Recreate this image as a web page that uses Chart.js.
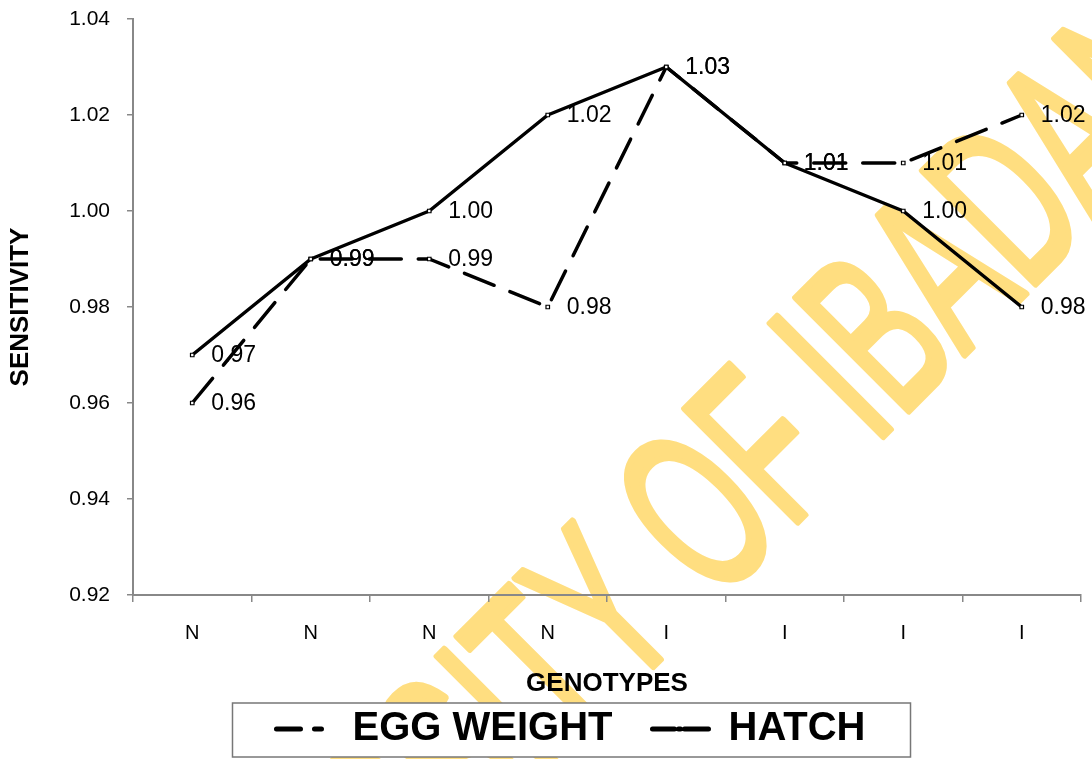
<!DOCTYPE html>
<html>
<head>
<meta charset="utf-8">
<script src="https://cdn.jsdelivr.net/npm/chart.js@4.4.1/dist/chart.umd.min.js"></script>
<style>
  html, body { margin: 0; padding: 0; background: #fff; overflow: hidden; }
  #wrap { width: 1142px; height: 759px; }
</style>
</head>
<body>
<div id="wrap"><canvas id="chart" width="1142" height="759"></canvas></div>
<script>
// data
const genotypes = ['N', 'N', 'N', 'N', 'I', 'I', 'I', 'I'];
const eggWeight = [0.96, 0.99, 0.99, 0.98, 1.03, 1.01, 1.01, 1.02];
const hatch = [0.97, 0.99, 1.00, 1.02, 1.03, 1.01, 1.00, 0.98];
const yMin = 0.92;
const yMax = 1.04;
const yStep = 0.02;

const FONT = "'Liberation Sans', Arial, sans-serif";
Chart.defaults.font.family = FONT;
Chart.defaults.color = '#000';

// yellow repository watermark behind everything
const watermark = {
  id: 'watermark',
  beforeDraw(chart){
    const ctx = chart.ctx;
    const size = 232;
    ctx.save();
    ctx.translate(828, 374);
    ctx.rotate(-45 * Math.PI / 180);
    ctx.scale(0.58, 1);
    ctx.font = size + 'px ' + FONT;
    ctx.textAlign = 'left';
    ctx.textBaseline = 'alphabetic';
    ctx.fillStyle = '#FFDE80';
    ctx.strokeStyle = '#FFDE80';
    ctx.lineWidth = 7;
    ctx.lineJoin = 'round';
    const txt = 'UNIVERSITY OF IBADAN';
    const pre = ctx.measureText('UNIVERSITY OF ').width + ctx.measureText('I').width / 2;
    ctx.fillText(txt, -pre, size * 0.716 / 2);
    ctx.strokeText(txt, -pre, size * 0.716 / 2);
    ctx.restore();

    // white legend box
    const lg = chart.legend;
    if (lg && lg.legendHitBoxes.length){
      const hb = lg.legendHitBoxes;
      const last = hb[hb.length - 1];
      ctx.save();
      ctx.fillStyle = '#fff';
      ctx.fillRect(hb[0].left - 44, hb[0].top - 6, last.left + last.width - hb[0].left + 89, 54);
      ctx.restore();
    }
  },
  afterDraw(chart){
    const lg = chart.legend;
    if (!lg || !lg.legendHitBoxes.length) return;
    const ctx = chart.ctx;
    const hb = lg.legendHitBoxes;
    const last = hb[hb.length - 1];
    ctx.save();
    ctx.strokeStyle = '#777';
    ctx.lineWidth = 1.5;
    ctx.strokeRect(hb[0].left - 44, hb[0].top - 6, last.left + last.width - hb[0].left + 89, 54);
    ctx.restore();
  }
};

// value labels right of each point
const valueLabels = {
  id: 'valueLabels',
  afterDatasetsDraw(chart){
    const ctx = chart.ctx;
    ctx.save();
    ctx.font = '23px ' + FONT;
    ctx.fillStyle = '#000';
    ctx.textAlign = 'left';
    ctx.textBaseline = 'middle';
    chart.data.datasets.forEach((ds, i) => {
      chart.getDatasetMeta(i).data.forEach((pt, j) => {
        ctx.fillText(ds.data[j].toFixed(2), pt.x + 19, pt.y + 1);
      });
    });
    ctx.restore();
  }
};

const legendDash = {
  'EGG WEIGHT': [24, 14, 7, 60],
  'HATCH': [22, 4, 2, 4, 40]
};

new Chart(document.getElementById('chart'), {
  type: 'line',
  data: {
    labels: genotypes,
    datasets: [
      {
        label: 'EGG WEIGHT',
        data: eggWeight,
        borderColor: '#000',
        borderWidth: 3.5,
        borderDash: [32, 17],
        borderCapStyle: 'round',
        borderJoinStyle: 'round',
        pointStyle: 'rect',
        pointRadius: 2.5,
        pointBackgroundColor: '#fff',
        pointBorderColor: '#000',
        pointBorderWidth: 1.2,
        fill: false,
        tension: 0
      },
      {
        label: 'HATCH',
        data: hatch,
        borderColor: '#000',
        borderWidth: 3.5,
        borderCapStyle: 'round',
        borderJoinStyle: 'round',
        pointStyle: 'rect',
        pointRadius: 2.5,
        pointBackgroundColor: '#fff',
        pointBorderColor: '#000',
        pointBorderWidth: 1.2,
        fill: false,
        tension: 0
      }
    ]
  },
  options: {
    responsive: false,
    animation: false,
    devicePixelRatio: 1,
    layout: { padding: { top: 19, left: 0, right: 0, bottom: 0 } },
    plugins: {
      legend: {
        position: 'bottom',
        labels: {
          usePointStyle: true,
          pointStyle: 'line',
          pointStyleWidth: 56,
          padding: 40,
          font: { size: 40, weight: 'bold' },
          color: '#000',
          generateLabels(chart){
            const items = Chart.defaults.plugins.legend.labels.generateLabels(chart);
            return items.map(it => Object.assign(it, {
              pointStyle: 'line',
              lineWidth: 5,
              lineCap: 'round',
              strokeStyle: '#000',
              lineDash: legendDash[it.text] || []
            }));
          }
        }
      },
      tooltip: { enabled: false }
    },
    scales: {
      x: {
        offset: true,
        grid: {
          offset: true,
          drawOnChartArea: false,
          tickLength: 7,
          color: '#888',
          lineWidth: 1.5
        },
        border: { color: '#888', width: 2 },
        ticks: { font: { size: 20 }, color: '#000', padding: 19 },
        title: {
          display: true,
          text: 'GENOTYPES',
          font: { size: 26, weight: 'bold' },
          color: '#000',
          padding: { top: 0, bottom: -30 }
        },
        afterFit(scale){ scale.height = 74; }
      },
      y: {
        min: yMin,
        max: yMax,
        grid: {
          drawOnChartArea: false,
          tickLength: 6,
          color: '#888',
          lineWidth: 1.5
        },
        border: { color: '#888', width: 2 },
        ticks: {
          stepSize: yStep,
          font: { size: 21 },
          color: '#000',
          padding: 17,
          callback: v => v.toFixed(2)
        },
        title: {
          display: true,
          text: 'SENSITIVITY',
          font: { size: 26, weight: 'bold' },
          color: '#000',
          padding: { top: 5, bottom: 0 }
        },
        afterFit(scale){
          scale.width = 133;
          scale.paddingTop = 0;
          scale.paddingBottom = 0;
        }
      },
      // empty right-hand box so the plot ends where the reference crop does
      y2: {
        position: 'right',
        grid: { display: false },
        border: { display: false },
        ticks: { display: false },
        afterFit(scale){ scale.width = 61; }
      }
    }
  },
  plugins: [watermark, valueLabels]
});
</script>
</body>
</html>
